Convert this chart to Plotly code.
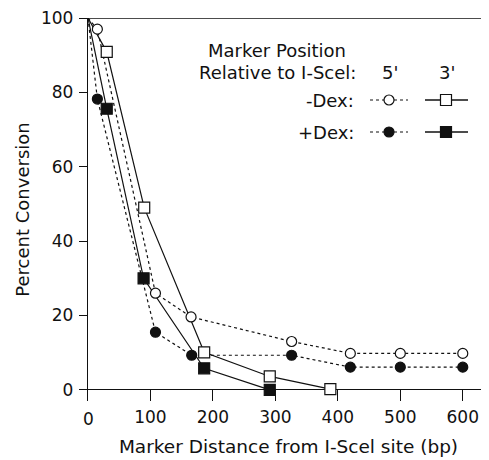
import plotly.graph_objects as go

# ---- data ----
x_minus_5 = [0, 15, 108, 165, 326, 420, 500, 600]
y_minus_5 = [100, 97, 26, 19.6, 13, 9.8, 9.8, 9.8]

x_minus_3 = [0, 30, 90, 186, 291, 388]
y_minus_3 = [100, 90.9, 49, 10.1, 3.6, 0.2]

x_plus_5 = [0, 15, 108, 166, 326, 420, 500, 600]
y_plus_5 = [100, 78.2, 15.5, 9.3, 9.3, 6.1, 6.1, 6.1]

x_plus_3 = [0, 30, 89, 186, 291]
y_plus_3 = [100, 75.6, 30, 5.8, 0]

x_ticks = [100, 200, 300, 400, 500, 600]
x_tick_labels = ["100", "200", "300", "400", "500", "600"]
y_ticks = [0, 20, 40, 60, 80, 100]

FONT = "DejaVu Sans"
BLACK = "#111111"

fig = go.Figure()

series = [
    (x_minus_5, y_minus_5, "dot", "circle", "white"),
    (x_minus_3, y_minus_3, "solid", "square", "white"),
    (x_plus_5, y_plus_5, "dot", "circle", BLACK),
    (x_plus_3, y_plus_3, "solid", "square", BLACK),
]

# lines first (including origin point)
for xs, ys, dash, sym, fill in series:
    fig.add_trace(go.Scatter(x=xs, y=ys, mode="lines",
                             line=dict(color=BLACK, width=1.2, dash=dash),
                             hoverinfo="skip", showlegend=False))
# markers on top (origin has no marker)
for xs, ys, dash, sym, fill in series:
    fig.add_trace(go.Scatter(x=xs[1:], y=ys[1:], mode="markers",
                             marker=dict(symbol=sym, size=10 if sym == "circle" else 11,
                                         color=fill, line=dict(color=BLACK, width=1.2)),
                             showlegend=False))

# ---- legend drawn on an overlay axis in page-pixel units ----
leg_y = [100, 132]
leg_circ_x = 389
leg_sq_x = 446
for yy, fill in zip(leg_y, ["white", BLACK]):
    fig.add_trace(go.Scatter(x=[370, 408], y=[yy, yy], mode="lines", xaxis="x2", yaxis="y2",
                             line=dict(color=BLACK, width=1.2, dash="dot"), showlegend=False))
    fig.add_trace(go.Scatter(x=[425, 468], y=[yy, yy], mode="lines", xaxis="x2", yaxis="y2",
                             line=dict(color=BLACK, width=1.4), showlegend=False))
    fig.add_trace(go.Scatter(x=[leg_circ_x], y=[yy], mode="markers", xaxis="x2", yaxis="y2",
                             marker=dict(symbol="circle", size=10, color=fill,
                                         line=dict(color=BLACK, width=1.2)), showlegend=False))
    fig.add_trace(go.Scatter(x=[leg_sq_x], y=[yy], mode="markers", xaxis="x2", yaxis="y2",
                             marker=dict(symbol="square", size=11, color=fill,
                                         line=dict(color=BLACK, width=1.2)), showlegend=False))

ann_font = dict(family=FONT, size=18, color=BLACK)
annotations = [
    dict(text="Marker Position", x=277, y=50, xanchor="center"),
    dict(text="Relative to I-Scel:", x=358, y=72, xanchor="right"),
    dict(text="5'", x=390, y=72, xanchor="center"),
    dict(text="3'", x=447, y=72, xanchor="center"),
    dict(text="-Dex:", x=356, y=100, xanchor="right"),
    dict(text="+Dex:", x=356, y=132, xanchor="right"),
]
for a in annotations:
    fig.add_annotation(xref="x2", yref="y2", yanchor="middle", showarrow=False,
                       font=ann_font, **a)

# top border line at 100
fig.add_shape(type="line", xref="x domain", yref="y", x0=0, x1=1, y0=100, y1=100,
              line=dict(color=BLACK, width=1.4))

# page body has an 8px margin, so the figure is 8px smaller and offset
fig.update_layout(
    width=481, height=452, autosize=False,
    margin=dict(l=80, r=0, t=10, b=59),
    paper_bgcolor="white", plot_bgcolor="white",
    font=dict(family=FONT, size=17, color=BLACK),
    xaxis=dict(range=[0, 642], tickvals=x_ticks, ticktext=x_tick_labels,
               ticks="inside", ticklen=11, tickwidth=1.2, tickcolor=BLACK,
               showline=False, showgrid=False, zeroline=False,
               ticklabelstandoff=4,
               title=dict(text="Marker Distance from I-Scel site (bp)",
                          font=dict(family=FONT, size=18.5), standoff=14)),
    yaxis=dict(range=[-3, 100], tickvals=y_ticks,
               ticks="outside", ticklen=8, tickwidth=1.2, tickcolor=BLACK,
               showline=True, linecolor=BLACK, linewidth=1.4,
               showgrid=False, zeroline=True, zerolinecolor=BLACK, zerolinewidth=1.4,
               ticklabelstandoff=2, ticklabeloverflow="allow",
               title=dict(text="Percent Conversion", font=dict(family=FONT, size=18), standoff=6)),
    xaxis2=dict(range=[88, 489], overlaying="x", visible=False, fixedrange=True),
    yaxis2=dict(range=[401, 18], overlaying="y", visible=False, fixedrange=True),
)

# x tick label "0" at origin
fig.add_annotation(xref="x", yref="paper", x=0, y=0, yanchor="top", yshift=-6,
                   text="0", showarrow=False, font=dict(family=FONT, size=17, color=BLACK))

fig.write_html("out.html")
